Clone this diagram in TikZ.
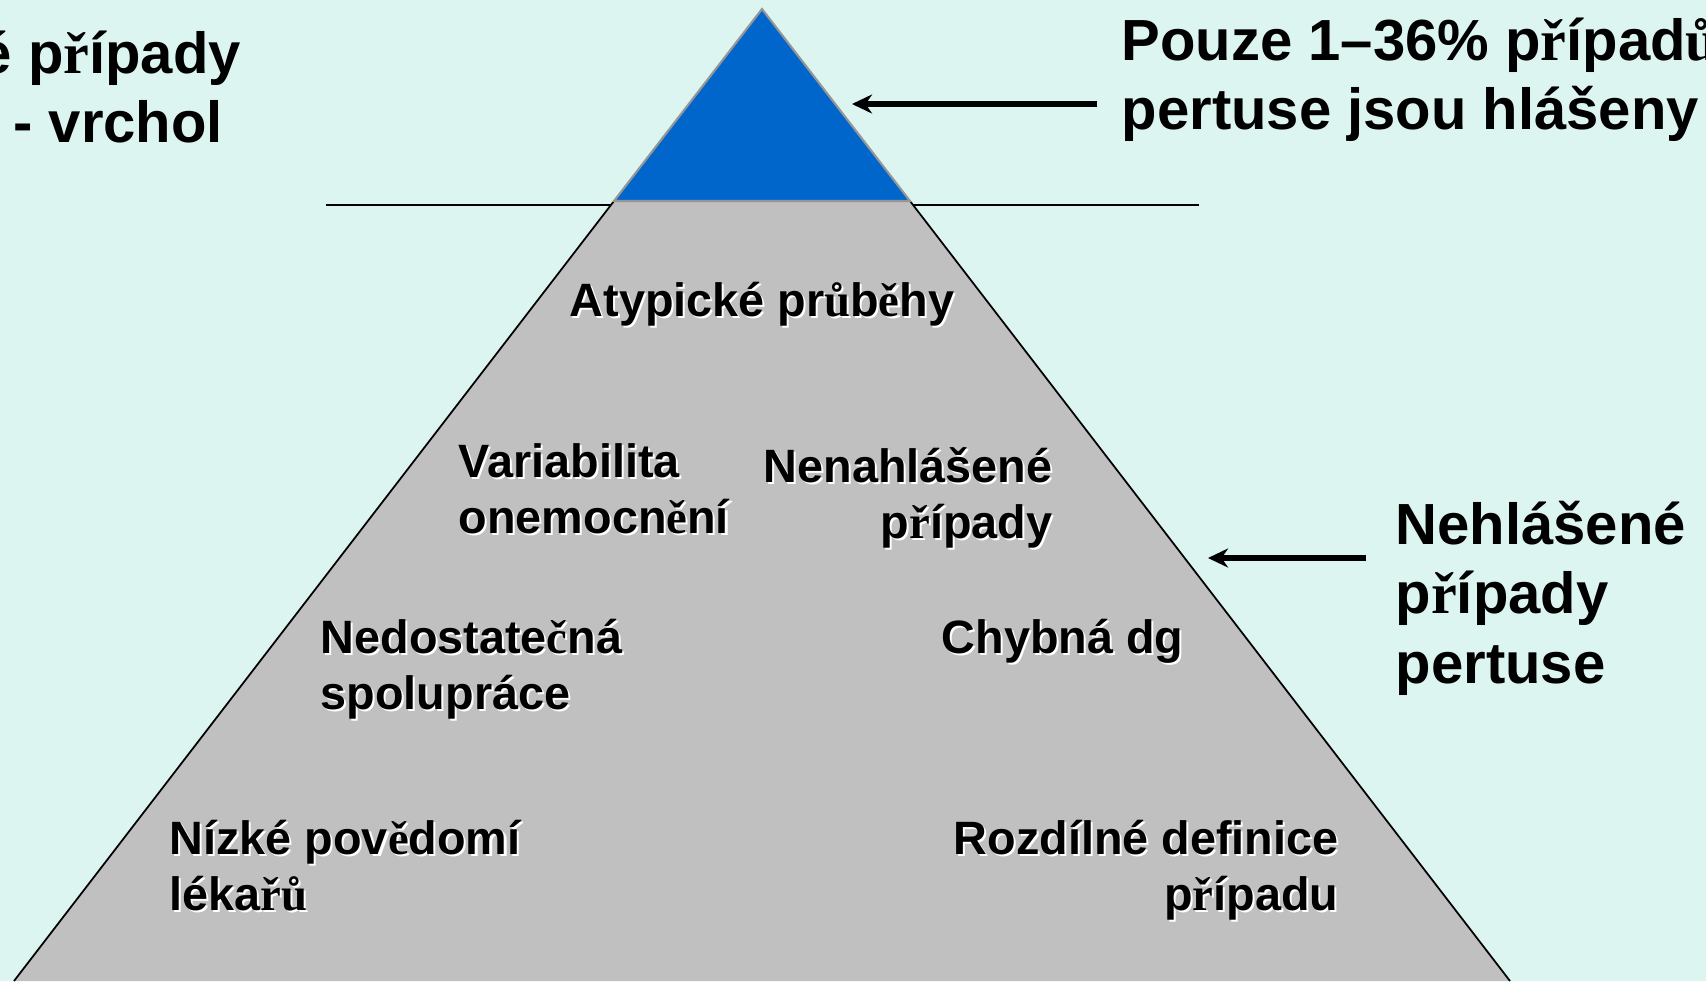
\documentclass[tikz,border=0pt]{standalone}
\usepackage{fontspec}
\setmainfont{Liberation Sans}
\newfontfamily\tms{Liberation Serif}
\usetikzlibrary{arrows.meta}
\definecolor{seabg}{RGB}{221,245,241}
\definecolor{tipblue}{RGB}{0,102,204}
\definecolor{icegray}{RGB}{192,192,192}
\definecolor{edgegray}{RGB}{150,150,150}
% letters that the slide set in a serif face
\newcommand{\cz}[1]{{\tms #1}}
% white drop shadow under a line of text
\newcommand{\shd}[1]{\rlap{\raisebox{-0.6pt}{\hspace{0.6pt}\color{white}#1}}#1}

\tikzset{
  bigtext/.style={font=\fontsize{16.5}{19.8}\selectfont\bfseries, inner sep=0pt, anchor=base west},
  cause/.style={font=\fontsize{13.3}{16}\selectfont\bfseries, inner sep=0pt},
  pointer/.style={-{Stealth[length=5.7pt,width=5.4pt]}, line width=1.6pt},
}

\begin{document}
\begin{tikzpicture}[x=0.01cm,y=-0.01cm]
    \fill[seabg] (0,0) rectangle (1706,981);
    \useasboundingbox (0,0) rectangle (1706,981);

    % water line
    \coordinate (waterL) at (326,205);
    \coordinate (waterR) at (1199,205);
    \draw[line width=0.5pt] (waterL) -- (waterR);

    % iceberg
    \coordinate (apex) at (762,9);
    \coordinate (tipL) at (614,201);
    \coordinate (tipR) at (910,201);
    \coordinate (baseL) at (14,981);
    \coordinate (baseR) at (1510,981);
    \fill[icegray] (tipL) -- (tipR) -- (baseR) -- (baseL) -- cycle;
    \draw[line width=0.5pt] (tipL) -- (baseL) (tipR) -- (baseR);
    \fill[tipblue, draw=edgegray, line width=0.6pt] (apex) -- (tipR) -- (tipL) -- cycle;

    % side notes
    \node[bigtext] (reported) at (-21,73)
    {{%
        \begin{tabular}[t]{@{}l@{}}
é p\cz{ř}ípady\\
\hspace*{9.6pt}- vrchol
        \end{tabular}%
    }};
    \node[bigtext] (onlyfew) at (1121,60)
    {{%
        \begin{tabular}[t]{@{}l@{}}
Pouze 1–36\% p\cz{ř}ípad\cz{ů}\\
pertuse jsou hlášeny
        \end{tabular}%
    }};
    \node[bigtext] (hidden) at (1395,544)
    {{%
        \begin{tabular}[t]{@{}l@{}}
Nehlášené\\
p\cz{ř}ípady\\
pertuse
        \end{tabular}%
    }};

    % causes under water
    \node[cause, anchor=base] (atypic) at (762,316) {\shd{Atypické pr\cz{ů}b\cz{ě}hy}};
    \node[cause, anchor=base west] (variab) at (458,477)
    {{%
        \begin{tabular}[t]{@{}l@{}}
\shd{Variabilita}\\
\shd{onemocn\cz{ě}ní}
        \end{tabular}%
    }};
    \node[cause, anchor=base east] (unrep) at (1053,482)
    {{%
        \begin{tabular}[t]{@{}r@{}}
\shd{Nenahlášené}\\
\shd{p\cz{ř}ípady}
        \end{tabular}%
    }};
    \node[cause, anchor=base west] (coop) at (320,653)
    {{%
        \begin{tabular}[t]{@{}l@{}}
\shd{Nedostate\cz{č}ná}\\
\shd{spolupráce}
        \end{tabular}%
    }};
    \node[cause, anchor=base west] (wrongdg) at (941,653) {\shd{Chybná dg}};
    \node[cause, anchor=base west] (aware) at (169,854)
    {{%
        \begin{tabular}[t]{@{}l@{}}
\shd{Nízké pov\cz{ě}domí}\\
\shd{léka\cz{ř}\cz{ů}}
        \end{tabular}%
    }};
    \node[cause, anchor=base east] (defin) at (1339,854)
    {{%
        \begin{tabular}[t]{@{}r@{}}
\shd{Rozdílné definice}\\
\shd{p\cz{ř}ípadu}
        \end{tabular}%
    }};

    % arrows
    \coordinate (topTail) at (1097,104);
    \coordinate (topHead) at (852,104);
    \coordinate (sideTail) at (1366,558);
    \coordinate (sideHead) at (1208,558);
    \draw[pointer] (topTail) -- (topHead);
    \draw[pointer] (sideTail) -- (sideHead);
\end{tikzpicture}
\end{document}
